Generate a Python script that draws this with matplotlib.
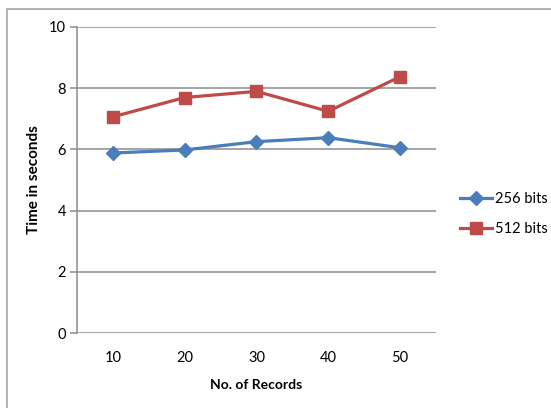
import numpy as np
import matplotlib
matplotlib.use('Agg')
import matplotlib.pyplot as plt
from matplotlib.patches import Rectangle

records = ['10', '20', '30', '40', '50']
bits_256 = [5.88, 5.98, 6.25, 6.38, 6.05]
bits_512 = [7.06, 7.69, 7.89, 7.24, 8.37]
y_ticks = [0, 2, 4, 6, 8, 10]

plt.rcParams['font.family'] = ['Lato', 'DejaVu Sans']

fig = plt.figure(figsize=(5.51, 4.08), dpi=100)
ax = fig.add_axes([0.1397, 0.1831, 0.6516, 0.7515])

# chart frame (open at right and bottom)
fig.patches.append(Rectangle((6.5 / 551, -0.1), 1.2, 1 - 8.5 / 408 + 0.1,
                             transform=fig.transFigure, fill=False,
                             edgecolor='#a6a6a6', linewidth=1.2))

x = np.arange(len(records))
ax.plot(x, bits_256, color='#4a7ebb', linewidth=2.3, marker='D', markersize=7,
        label='256 bits', zorder=3)
ax.plot(x, bits_512, color='#be4b48', linewidth=2.3, marker='s', markersize=8,
        label='512 bits', zorder=3)

ax.set_xlim(-0.5, len(records) - 0.5)
ax.set_ylim(0, 10)
ax.set_yticks(y_ticks)
ax.set_xticks(x)
ax.set_xticklabels(records)

ax.grid(axis='y', color='#8c8c8c', linewidth=1.1)
ax.set_axisbelow(True)
for side in ['top', 'right', 'bottom']:
    ax.spines[side].set_visible(False)
ax.spines['left'].set_color('#8c8c8c')
ax.spines['left'].set_linewidth(1.1)
ax.tick_params(axis='y', length=5, color='#8c8c8c', width=1.1, labelsize=10.5, pad=3)
ax.tick_params(axis='x', length=0, labelsize=10.5, pad=13)

ax.set_xlabel('No. of Records', fontsize=10, fontweight='bold', labelpad=10)
ax.set_ylabel('Time in seconds', fontsize=11, fontweight='bold', labelpad=6)

ax.legend(loc='center left', bbox_to_anchor=(1.03, 0.39), frameon=False,
          fontsize=10.5, handlelength=2.2, handletextpad=0.2, labelspacing=1.1)

fig.savefig('out.png', dpi=100)
